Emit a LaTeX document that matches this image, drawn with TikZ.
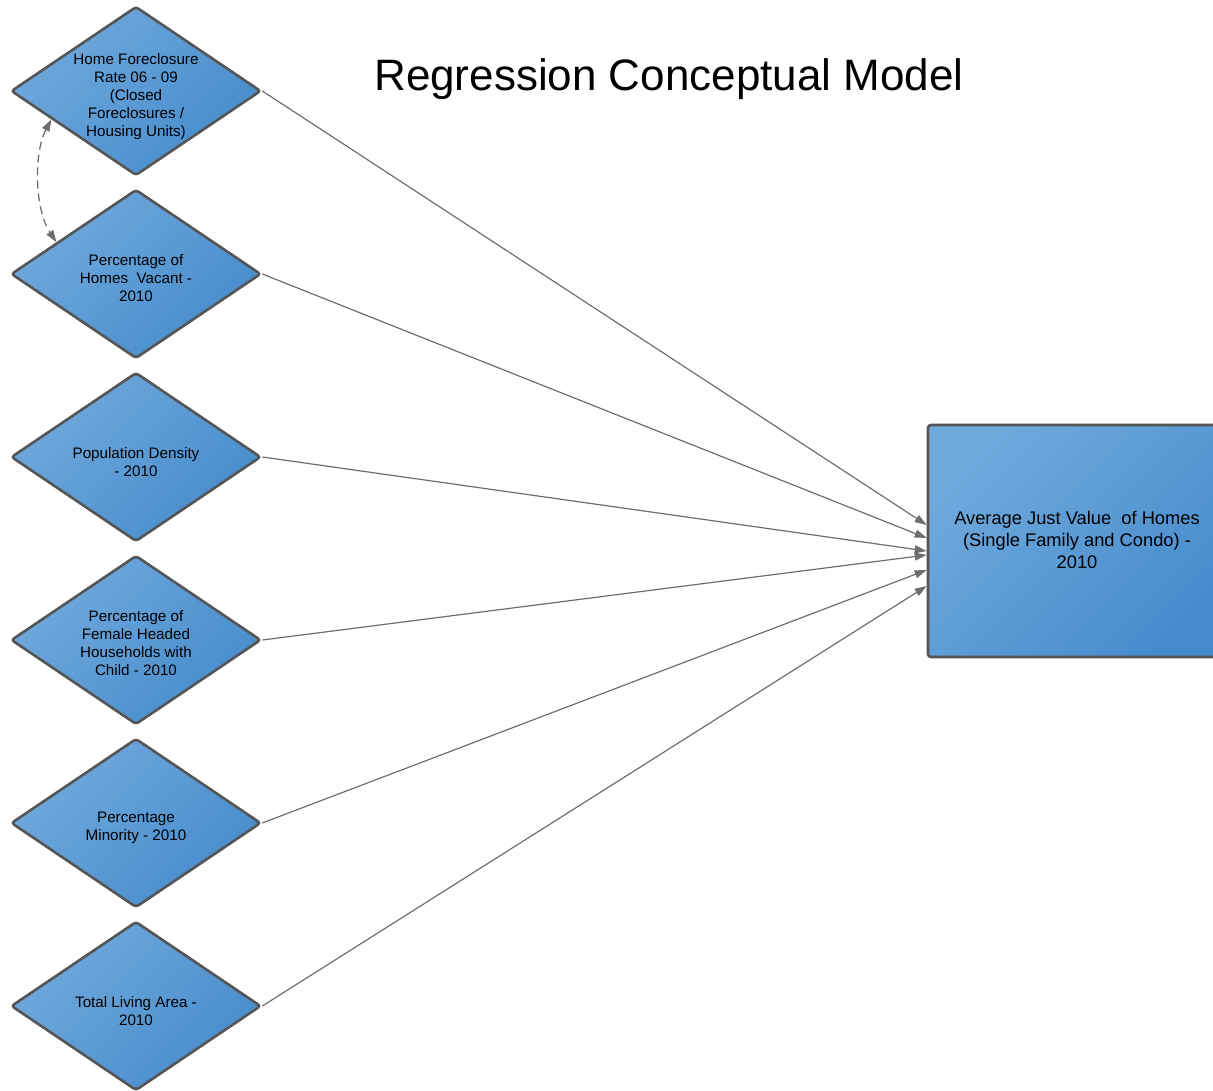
\documentclass[tikz,border=0pt]{standalone}
\usepackage{fontspec}
\setmainfont{Liberation Sans}
\usetikzlibrary{shapes.geometric,arrows.meta,calc}
\definecolor{fillA}{HTML}{70A9DC}
\definecolor{fillB}{HTML}{468CCD}
\definecolor{edgeC}{HTML}{555555}
\definecolor{lineC}{HTML}{6E6E6E}
\begin{document}
\begin{tikzpicture}[x=1pt,y=-1pt,
  dia/.style={diamond, draw=edgeC, line width=2.6pt, rounded corners=3pt,
    minimum width=250pt, minimum height=169pt, inner sep=0pt,
    top color=fillA, bottom color=fillB, shading angle=45},
  dtext/.style={align=center, font=\fontsize{15.2}{18}\selectfont, inner sep=0pt},
  outbox/.style={rectangle, draw=edgeC, line width=2.6pt, rounded corners=3pt,
    minimum width=298pt, minimum height=232pt, inner sep=0pt,
    top color=fillA, bottom color=fillB, shading angle=45},
  link/.style={draw=lineC, line width=1.2pt, -{Triangle[length=12pt,width=8pt]}},
  dlink/.style={draw=lineC, line width=1.3pt, dash pattern=on 8pt off 5pt,
    {Triangle[length=12pt,width=8pt]}-{Triangle[length=12pt,width=8pt]}}
]
\clip (0,0) rectangle (1213,1090);
\node[anchor=base, font=\fontsize{44}{50}\selectfont] (title) at (669,90) {Regression Conceptual Model};

\node[dia] (d1) at (136,91) {};
\node[dia] (d2) at (136,274) {};
\node[dia] (d3) at (136,457) {};
\node[dia] (d4) at (136,640) {};
\node[dia] (d5) at (136,823) {};
\node[dia] (d6) at (136,1006) {};

\node[dtext] (t1) at (136,97) {Home Foreclosure\\Rate 06 - 09\\(Closed\\Foreclosures /\\Housing Units)};
\node[dtext] (t2) at (136,278) {Percentage of\\Homes~ Vacant -\\2010};
\node[dtext] (t3) at (136,462) {Population Density\\- 2010};
\node[dtext] (t4) at (136,643) {Percentage of\\Female Headed\\Households with\\Child - 2010};
\node[dtext] (t5) at (136,828) {Percentage\\Minority - 2010};
\node[dtext] (t6) at (136,1011) {Total Living Area -\\2010};

\node[outbox] (box) at (1077,541) {};
\node[align=center, font=\fontsize{18.3}{22}\selectfont, inner sep=0pt] (bt) at (1077,540)
  {Average Just Value~ of Homes\\(Single Family and Condo) -\\2010};

\coordinate (e1) at ($(box.west)+(0,-16)$);
\coordinate (e2) at ($(box.west)+(0,-3)$);
\coordinate (e3) at ($(box.west)+(0,10)$);
\coordinate (e4) at ($(box.west)+(0,14)$);
\coordinate (e5) at ($(box.west)+(0,29)$);
\coordinate (e6) at ($(box.west)+(0,45)$);

\draw[link] (d1.east) -- (e1);
\draw[link] (d2.east) -- (e2);
\draw[link] (d3.east) -- (e3);
\draw[link] (d4.east) -- (e4);
\draw[link] (d5.east) -- (e5);
\draw[link] (d6.east) -- (e6);

\coordinate (a1) at ($(d1.west)!0.33!(d1.south)$);
\coordinate (a2) at ($(d2.west)!0.37!(d2.north)$);
\draw[dlink] (a1) .. controls (34,152) and (34,208) .. (a2);
\end{tikzpicture}
\end{document}
